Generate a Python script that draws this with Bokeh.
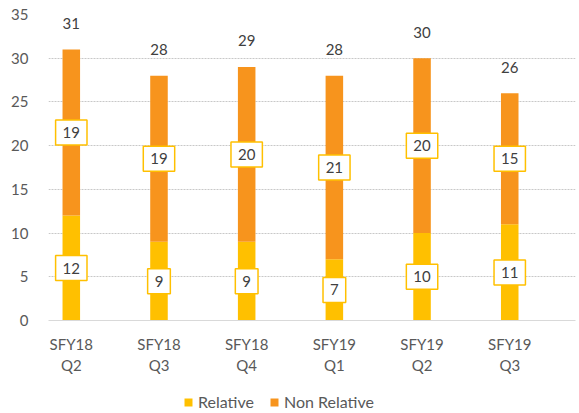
from bokeh.plotting import figure
from bokeh.layouts import column
from bokeh.models import ColumnDataSource, Range1d, FixedTicker, Legend, LegendItem
from bokeh.core.properties import value
from bokeh.embed import file_html
from bokeh.resources import INLINE

categories = ["SFY18\nQ2", "SFY18\nQ3", "SFY18\nQ4", "SFY19\nQ1", "SFY19\nQ2", "SFY19\nQ3"]
relative = [12, 9, 9, 7, 10, 11]
non_relative = [19, 19, 20, 21, 20, 15]
y_ticks = [0, 5, 10, 15, 20, 25, 30, 35]
series_names = ["Relative", "Non Relative"]

FONT = "Lato"
FS = "15px"
YELLOW = "#FFC000"
ORANGE = "#F7941D"

xs = list(range(len(categories)))
totals = [a + b for a, b in zip(relative, non_relative)]
src = ColumnDataSource(dict(
    x=xs,
    rel=relative,
    non=non_relative,
    top=totals,
    rel_mid=[r / 2 for r in relative],
    non_mid=[r + n / 2 for r, n in zip(relative, non_relative)],
    rel_txt=[str(v) for v in relative],
    non_txt=[str(v) for v in non_relative],
    tot_txt=[str(v) for v in totals],
))

p = figure(frame_width=527, frame_height=306, output_backend="svg", toolbar_location=None,
           x_range=Range1d(-0.26, 5.75), y_range=Range1d(0, 35),
           min_border_left=48, min_border_right=4, min_border_top=14, min_border_bottom=62)
p.outline_line_color = None
p.background_fill_color = "white"
p.border_fill_color = "white"

p.vbar(x="x", bottom=0, top="rel", width=0.2, source=src, fill_color=YELLOW, line_color=None)
p.vbar(x="x", bottom="rel", top="top", width=0.2, source=src, fill_color=ORANGE, line_color=None)

common = dict(text_font=value(FONT), text_font_size=FS, text_color="#404040",
              text_align="center", text_baseline="middle")
p.text(x="x", y="rel_mid", text="rel_txt", source=src, background_fill_color="white",
       border_line_color=YELLOW, border_line_width=1.5, padding=7, **common)
p.text(x="x", y="non_mid", text="non_txt", source=src, background_fill_color="white",
       border_line_color=YELLOW, border_line_width=1.5, padding=7, **common)
p.text(x="x", y="top", text="tot_txt", source=src, y_offset=-26, **common)

p.xgrid.grid_line_color = None
p.ygrid.ticker = FixedTicker(ticks=y_ticks)
p.ygrid.grid_line_color = "#C8C8C8"
p.ygrid.grid_line_dash = "2 1"

p.yaxis.ticker = FixedTicker(ticks=y_ticks)
p.yaxis.axis_line_color = None
p.yaxis.major_tick_line_color = None
p.yaxis.minor_tick_line_color = None
p.yaxis.major_label_text_font = FONT
p.yaxis.major_label_text_font_size = FS
p.yaxis.major_label_text_color = "#595959"
p.yaxis.major_label_standoff = 14

p.xaxis.ticker = FixedTicker(ticks=xs)
p.xaxis.major_label_overrides = {i: c for i, c in zip(xs, categories)}
p.xaxis.axis_line_color = "#D9D9D9"
p.xaxis.major_tick_line_color = None
p.xaxis.minor_tick_line_color = None
p.xaxis.major_label_text_font = FONT
p.xaxis.major_label_text_font_size = FS
p.xaxis.major_label_text_color = "#595959"
p.xaxis.major_label_standoff = 8

# legend strip below the chart (proxy renderers kept outside the visible range)
lg = figure(width=579, height=31, output_backend="svg", toolbar_location=None,
            x_range=Range1d(100, 101), y_range=Range1d(100, 101),
            x_axis_location=None, y_axis_location=None,
            min_border_left=0, min_border_right=0, min_border_top=0, min_border_bottom=0)
lg.outline_line_color = None
lg.grid.visible = False
lg.background_fill_color = "white"
lg.border_fill_color = "white"
q1 = lg.vbar(x="x", bottom=0, top="rel", width=0.2, source=src, fill_color=YELLOW, line_color=None)
q2 = lg.vbar(x="x", bottom="rel", top="top", width=0.2, source=src, fill_color=ORANGE, line_color=None)

legend = Legend(items=[LegendItem(label=series_names[0], renderers=[q1]),
                       LegendItem(label=series_names[1], renderers=[q2])],
                orientation="horizontal", location=(135, 2),
                label_text_font=FONT, label_text_font_size="16px", label_text_color="#595959",
                glyph_width=10, glyph_height=10, label_height=14, label_standoff=5, spacing=15,
                border_line_color=None, background_fill_alpha=0, padding=0, margin=0)
lg.add_layout(legend, "center")

layout = column(p, lg, spacing=0)
open("out.html", "w").write(file_html(layout, INLINE))
